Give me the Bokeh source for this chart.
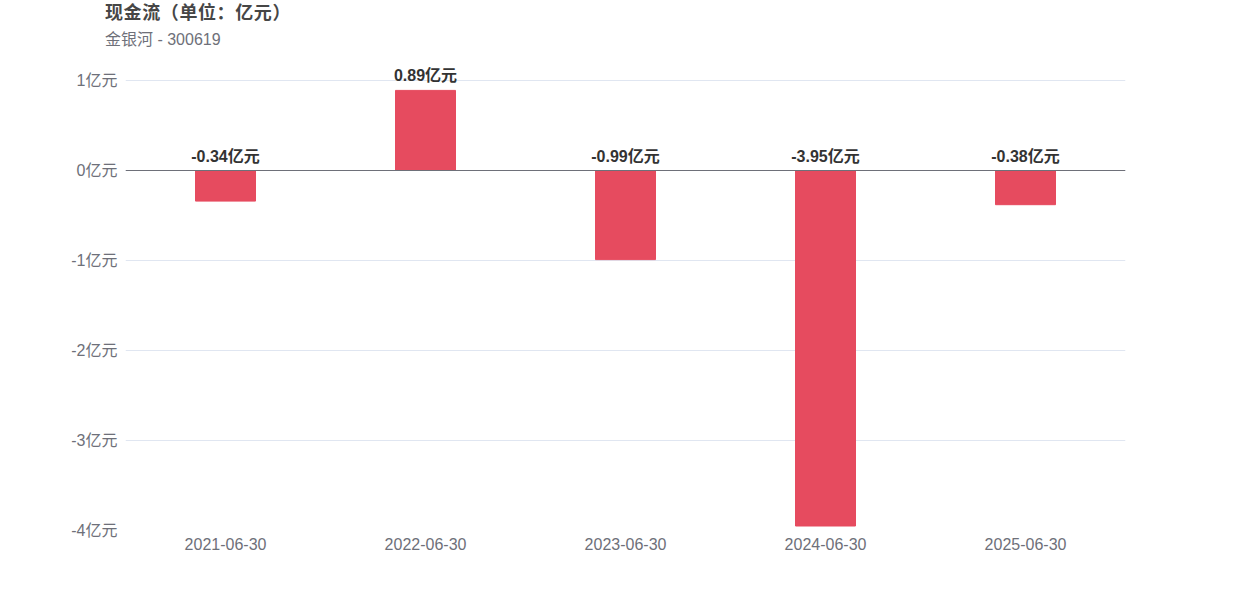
from bokeh.plotting import figure
from bokeh.layouts import column
from bokeh.models import (ColumnDataSource, FixedTicker, PrintfTickFormatter,
                          Span, Div, FactorRange, Range1d)
from bokeh.core.properties import value
from bokeh.embed import file_html
from bokeh.resources import INLINE

# Cash flow by reporting period, in 100-million yuan
periods = ["2021-06-30", "2022-06-30", "2023-06-30", "2024-06-30", "2025-06-30"]
cash_flow = [-0.34, 0.89, -0.99, -3.95, -0.38]
y_ticks = [-4, -3, -2, -1, 0, 1]

title_text = "现金流（单位：亿元）"
subtitle_text = "金银河 - 300619"

FONT = "Liberation Sans, Arial, Noto Sans CJK SC, sans-serif"
BAR_COLOR = "#e64b5f"
AXIS_TEXT = "#6e7079"

HEADER_H = 55
FIG_H = 600 - HEADER_H
BOTTOM = 70
# the plot area runs from the header down to the -4 line; 90 px per unit
PX_PER_UNIT = 90
y_top = -4 + (FIG_H - BOTTOM) / PX_PER_UNIT

source = ColumnDataSource(dict(
    period=periods,
    value=cash_flow,
    top=[max(v, 0) for v in cash_flow],
    bottom=[min(v, 0) for v in cash_flow],
    label_y=[max(v, 0) for v in cash_flow],
    label=[f"{v:.2f}亿元" for v in cash_flow],
))

header = Div(
    width=1250, height=HEADER_H, margin=(0, 0, 0, 0),
    text=(
        f'<div style="position:relative;width:1250px;height:{HEADER_H}px;'
        f'font-family:{FONT};">'
        f'<span style="position:absolute;left:105px;top:3px;font-size:18px;'
        f'line-height:20px;font-weight:bold;color:#464646;white-space:nowrap;'
        f'letter-spacing:0.6px;">'
        f'{title_text}</span>'
        f'<span style="position:absolute;left:105px;top:31px;font-size:16px;'
        f'line-height:18px;color:#6e7079;white-space:nowrap;">'
        f'{subtitle_text}</span></div>'
    ),
)

p = figure(width=1250, height=FIG_H, x_range=FactorRange(*periods),
           y_range=Range1d(-4, y_top), output_backend="svg",
           toolbar_location=None, margin=(0, 0, 0, 0),
           min_border_left=125, min_border_right=125, min_border_top=0,
           min_border_bottom=BOTTOM)
p.outline_line_color = None
p.background_fill_color = "white"
p.border_fill_color = "white"

p.vbar(x="period", top="top", bottom="bottom", width=0.3, color=BAR_COLOR,
       source=source)

# value labels sit above the bar top (or above the zero line for negatives)
p.text(x="period", y="label_y", text="label", source=source,
       text_align="center", text_baseline="bottom", y_offset=-6,
       text_font=value(FONT), text_font_size="16px",
       text_font_style="bold", text_color="#333333")

# zero line
p.add_layout(Span(location=0, dimension="width", line_color="#6e7079",
                  line_width=1))

# axes
for ax in (p.xaxis, p.yaxis):
    ax.axis_line_color = None
    ax.major_tick_line_color = None
    ax.minor_tick_line_color = None
    ax.major_tick_out = 0
    ax.major_tick_in = 0
    ax.minor_tick_out = 0
    ax.minor_tick_in = 0
    ax.major_label_text_color = AXIS_TEXT
    ax.major_label_text_font = FONT
    ax.major_label_text_font_size = "16px"

p.yaxis.ticker = FixedTicker(ticks=y_ticks)
p.yaxis.formatter = PrintfTickFormatter(format="%d亿元")
p.yaxis.major_label_standoff = 8
p.xaxis.major_label_standoff = 7

p.xgrid.grid_line_color = None
p.ygrid.grid_line_color = "#e0e6f1"
p.ygrid.ticker = FixedTicker(ticks=y_ticks)

layout = column(header, p, spacing=0, margin=(0, 0, 0, 0))

open("out.html", "w").write(file_html(layout, INLINE))
